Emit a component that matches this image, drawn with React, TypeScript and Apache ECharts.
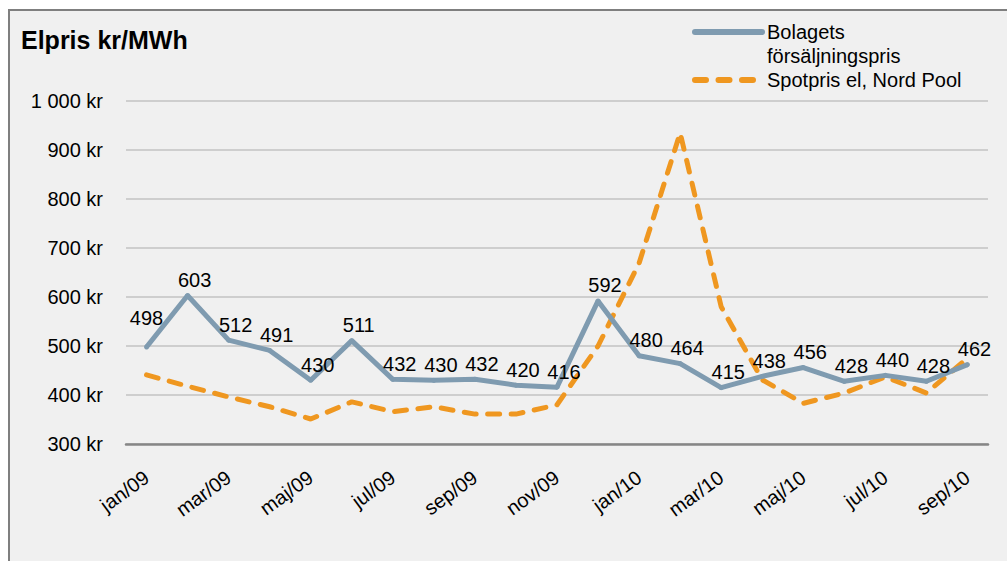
import React, { useEffect, useRef } from 'react';
import * as echarts from 'echarts';

const months = ['jan/09', 'feb/09', 'mar/09', 'apr/09', 'maj/09', 'jun/09', 'jul/09', 'aug/09', 'sep/09', 'okt/09', 'nov/09', 'dec/09', 'jan/10', 'feb/10', 'mar/10', 'apr/10', 'maj/10', 'jun/10', 'jul/10', 'aug/10', 'sep/10'];
const bolagetsPris = [498, 603, 512, 491, 430, 511, 432, 430, 432, 420, 416, 592, 480, 464, 415, 438, 456, 428, 440, 428, 462];
const spotPris = [441, 418, 396, 376, 351, 386, 366, 376, 361, 361, 380, 500, 669, 935, 580, 431, 383, 404, 437, 404, 475];
const yMin = 300;
const yMax = 1000;
const yStep = 100;

const seriesNames = ['Bolagets försäljningspris', 'Spotpris el, Nord Pool'];
const FONT = "'Liberation Sans', Arial, sans-serif";
const BLUE = '#7f9bb0';
const ORANGE = '#ef9720';

function fmtKr(v: number): string {
  return String(v).replace(/\B(?=(\d{3})+(?!\d))/g, ' ') + ' kr';
}

export default function App() {
  const ref = useRef<HTMLDivElement>(null);
  useEffect(() => {
    if (!ref.current) return;
    const chart = echarts.init(ref.current, null, { renderer: 'svg', width: 1007, height: 561 });
    chart.setOption({
      animation: false,
      backgroundColor: 'transparent',
      textStyle: { fontFamily: FONT },
      title: {
        text: 'Elpris kr/MWh',
        left: 21,
        top: 27,
        padding: 0,
        textStyle: { fontSize: 25, fontWeight: 'bold', color: '#000', fontFamily: FONT },
      },
      legend: {
        orient: 'vertical',
        left: 692,
        top: -4,
        padding: 0,
        itemGap: 0,
        itemWidth: 67,
        itemHeight: 14,
        itemStyle: { opacity: 0 },
        data: [
          { name: seriesNames[0], lineStyle: { width: 6, cap: 'round' } },
          { name: seriesNames[1], lineStyle: { width: 6, cap: 'round', type: [11, 12.5] } },
        ],
        formatter: (name: string) =>
          name === seriesNames[0] ? '\nBolagets\nförsäljningspris' : name,
        textStyle: { fontSize: 20, color: '#000', fontFamily: FONT, lineHeight: 24 },
      },
      grid: { left: 126, right: 19, top: 101, bottom: 117 },
      xAxis: {
        type: 'category',
        data: months,
        boundaryGap: true,
        axisLine: { show: true, lineStyle: { color: '#868686', width: 2.5 } },
        axisTick: { show: false },
        axisLabel: {
          interval: 1,
          rotate: 36,
          margin: 31,
          fontSize: 20,
          color: '#000',
          fontFamily: FONT,
        },
        splitLine: { show: false },
      },
      yAxis: {
        type: 'value',
        min: yMin,
        max: yMax,
        interval: yStep,
        axisLine: { show: false },
        axisTick: { show: false },
        axisLabel: {
          formatter: (v: number) => fmtKr(v),
          fontSize: 20,
          color: '#000',
          margin: 23,
          fontFamily: FONT,
        },
        splitLine: { lineStyle: { color: '#c3c3c3', width: 1.5 } },
      },
      series: [
        {
          name: seriesNames[0],
          type: 'line',
          data: bolagetsPris.map((v, i) =>
            i === 0 ? { value: v, label: { offset: [0, -13] } } : v
          ),
          symbol: 'circle',
          symbolSize: 5,
          showSymbol: true,
          z: 3,
          lineStyle: { color: BLUE, width: 5 },
          itemStyle: { color: BLUE },
          emphasis: { disabled: true },
          label: {
            show: true,
            position: 'top',
            distance: 3,
            offset: [7, 0],
            fontSize: 20,
            color: '#000',
            fontFamily: FONT,
          },
        },
        {
          name: seriesNames[1],
          type: 'line',
          data: spotPris,
          symbol: 'none',
          z: 2,
          lineStyle: { color: ORANGE, width: 5, type: [12, 11.5], cap: 'round' },
          itemStyle: { color: ORANGE },
          emphasis: { disabled: true },
        },
      ],
    });
    return () => chart.dispose();
  }, []);

  return (
    <div style={{ position: 'fixed', left: 0, top: 0, width: 1007, height: 561, background: '#fff', overflow: 'hidden' }}>
      <div
        style={{
          position: 'absolute',
          left: 8,
          top: 9,
          width: 1100,
          height: 700,
          background: '#f0f0f0',
          borderTop: '2px solid #7f7f7f',
          borderLeft: '2px solid #7f7f7f',
        }}
      />
      <div ref={ref} style={{ position: 'absolute', left: 0, top: 0, width: 1007, height: 561 }} />
    </div>
  );
}
